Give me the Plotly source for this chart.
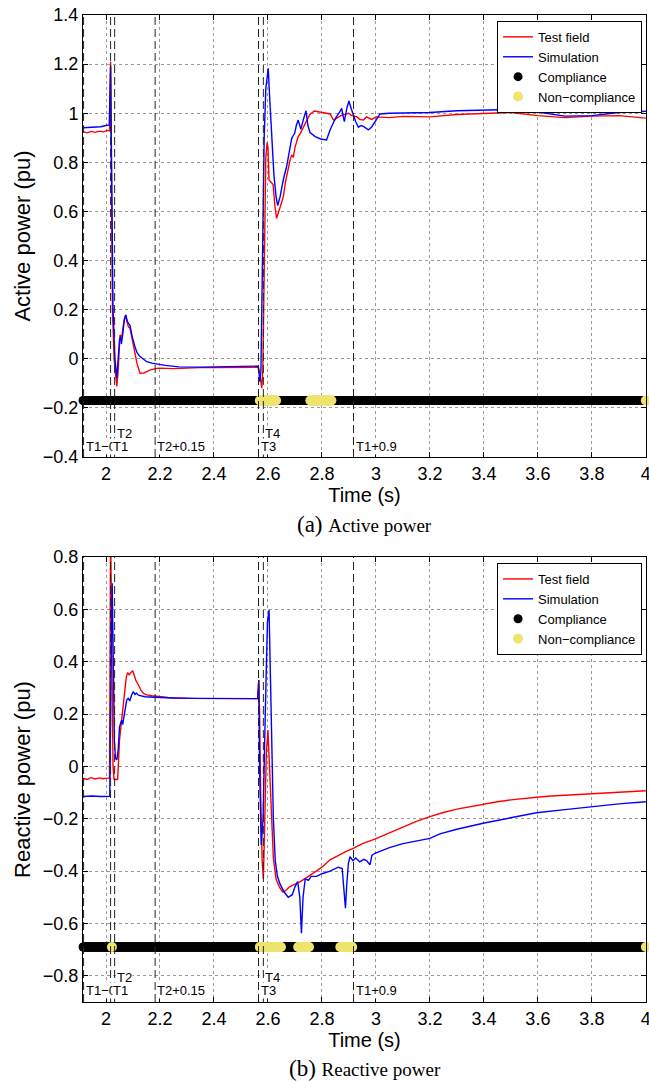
import numpy as np
import plotly.graph_objects as go

# ---------------- data ----------------
# Active power (pu)
p_test_t = [1.915, 1.93, 1.945, 1.96, 1.975, 1.99, 2.005, 2.013, 2.017, 2.019, 2.024, 2.030, 2.036, 2.040,
            2.045, 2.049, 2.052, 2.056, 2.060, 2.066, 2.073, 2.078, 2.083, 2.089, 2.095, 2.105, 2.115, 2.126,
            2.14, 2.151, 2.165, 2.188, 2.2, 2.25, 2.3, 2.35, 2.4, 2.45, 2.5, 2.55, 2.565, 2.570, 2.577,
            2.581, 2.586, 2.592, 2.597, 2.600, 2.604, 2.610, 2.619, 2.626, 2.632, 2.640, 2.650, 2.657,
            2.665, 2.675, 2.682, 2.688, 2.694, 2.700, 2.712, 2.72, 2.73, 2.743, 2.755, 2.772, 2.79, 2.81,
            2.83, 2.843, 2.855, 2.87, 2.885, 2.898, 2.91, 2.928, 2.94, 2.954, 2.965, 2.975, 2.984, 3.0,
            3.05, 3.1, 3.15, 3.2, 3.3, 3.4, 3.5, 3.6, 3.7, 3.8, 3.9, 4.0]
p_test_v = [0.925, 0.92, 0.926, 0.922, 0.927, 0.924, 0.93, 0.928, 1.21, 1.0, 0.2, 0.0, -0.08, -0.113,
            -0.05, 0.07, 0.097, 0.09, 0.10, 0.15, 0.178, 0.15, 0.13, 0.124, 0.09, 0.03, -0.02, -0.059,
            -0.058, -0.052, -0.045, -0.039, -0.038, -0.04, -0.037, -0.036, -0.036, -0.035, -0.034, -0.033,
            -0.035, -0.06, -0.12, -0.05, 0.4, 0.82, 0.88, 0.86, 0.728, 0.72, 0.71, 0.62, 0.572, 0.6, 0.64,
            0.66, 0.72, 0.782, 0.81, 0.83, 0.82, 0.86, 0.905, 0.918, 0.94, 0.972, 0.995, 1.009, 1.005, 1.0,
            0.997, 0.972, 0.98, 0.99, 0.995, 1.0, 0.99, 0.986, 0.975, 0.972, 0.985, 0.978, 0.975, 0.985,
            0.982, 0.987, 0.985, 0.985, 0.995, 1.0, 1.003, 0.99, 0.982, 0.988, 0.99, 0.98]

p_sim_t = [1.915, 1.95, 1.98, 2.0, 2.012, 2.017, 2.021, 2.026, 2.033, 2.040, 2.045, 2.050, 2.054, 2.057,
           2.062, 2.068, 2.073, 2.080, 2.089, 2.097, 2.107, 2.115, 2.126, 2.14, 2.151, 2.17, 2.188, 2.22,
           2.27, 2.35, 2.45, 2.55, 2.563, 2.567, 2.570, 2.574, 2.58, 2.586, 2.592, 2.601, 2.607, 2.614,
           2.622, 2.630, 2.636, 2.645, 2.657, 2.669, 2.680, 2.688, 2.699, 2.705, 2.712, 2.717, 2.722,
           2.730, 2.741, 2.748, 2.756, 2.775, 2.795, 2.817, 2.830, 2.842, 2.854, 2.866, 2.873, 2.878,
           2.883, 2.892, 2.900, 2.908, 2.916, 2.925, 2.935, 2.945, 2.955, 2.965, 2.972, 2.985, 3.002,
           3.015, 3.05, 3.1, 3.2, 3.3, 3.4, 3.5, 3.6, 3.7, 3.8, 3.9, 4.0]
p_sim_v = [0.941, 0.942, 0.945, 0.95, 0.952, 1.19, 0.7, 0.2, 0.0, -0.079, 0.0, 0.077, 0.09, 0.06,
           0.1, 0.16, 0.178, 0.15, 0.135, 0.09, 0.05, 0.025, 0.009, -0.005, -0.012, -0.018, -0.022, -0.027,
           -0.033, -0.034, -0.032, -0.03, -0.03, -0.06, -0.093, -0.05, 0.4, 0.9, 1.1, 1.183, 1.05, 0.891,
           0.75, 0.66, 0.624, 0.66, 0.73, 0.782, 0.86, 0.898, 0.918, 0.95, 0.972, 0.955, 0.935,
           0.97, 1.010, 0.95, 0.921, 0.905, 0.895, 0.891, 0.932, 0.96, 0.986, 1.005, 1.02, 0.99,
           0.966, 1.02, 1.05, 1.02, 0.993, 0.965, 0.943, 0.95, 0.945, 0.935, 0.932, 0.945, 0.972,
           0.997, 1.0, 1.0, 1.003, 1.01, 1.013, 1.015, 1.005, 0.988, 0.99, 1.003, 1.008]

# Reactive power (pu)
q_test_t = [1.915, 1.93, 1.945, 1.96, 1.975, 1.99, 2.005, 2.013, 2.017, 2.021, 2.026, 2.030, 2.043,
            2.050, 2.058, 2.064, 2.070, 2.075, 2.080, 2.086, 2.093, 2.099, 2.104, 2.110, 2.120, 2.130,
            2.140, 2.151, 2.17, 2.19, 2.23, 2.3, 2.4, 2.5, 2.562, 2.566, 2.569, 2.573, 2.578, 2.583,
            2.588, 2.594, 2.600, 2.605, 2.612, 2.620, 2.630, 2.642, 2.655, 2.665, 2.68, 2.70, 2.72,
            2.75, 2.78, 2.80, 2.83, 2.86, 2.89, 2.916, 2.95, 2.996, 3.05, 3.1, 3.15, 3.2, 3.25, 3.3,
            3.35, 3.397, 3.45, 3.5, 3.55, 3.595, 3.65, 3.7, 3.793, 3.85, 3.9, 3.95, 4.0]
q_test_v = [-0.045, -0.05, -0.043, -0.048, -0.044, -0.047, -0.045, -0.045, 0.9, 0.5, 0.0, -0.05, -0.05,
            0.1, 0.177, 0.25, 0.292, 0.34, 0.358, 0.35, 0.36, 0.365, 0.35, 0.33, 0.311, 0.29,
            0.278, 0.273, 0.27, 0.268, 0.263, 0.26, 0.259, 0.259, 0.259, 0.33, 0.2, -0.1, -0.35, -0.43,
            -0.2, 0.05, 0.139, 0.0, -0.2, -0.35, -0.43, -0.46, -0.48, -0.475, -0.46, -0.45, -0.44,
            -0.42, -0.40, -0.385, -0.357, -0.34, -0.325, -0.313, -0.295, -0.278, -0.255, -0.232, -0.21,
            -0.192, -0.176, -0.163, -0.153, -0.145, -0.135, -0.128, -0.122, -0.118, -0.113, -0.11,
            -0.105, -0.1, -0.098, -0.096, -0.093]

q_sim_t = [1.915, 1.95, 1.98, 2.0, 2.014, 2.018, 2.023, 2.027, 2.031, 2.035, 2.040, 2.045, 2.050, 2.058,
           2.062, 2.068, 2.077, 2.082, 2.088, 2.094, 2.101, 2.107, 2.113, 2.12, 2.144, 2.18, 2.25, 2.35,
           2.45, 2.562, 2.566, 2.569, 2.575, 2.582, 2.590, 2.598, 2.604, 2.609, 2.615, 2.620, 2.627,
           2.635, 2.645, 2.66, 2.675, 2.69, 2.70, 2.71, 2.718, 2.724, 2.730, 2.738, 2.75, 2.76, 2.78,
           2.80, 2.83, 2.86, 2.875, 2.882, 2.887, 2.892, 2.898, 2.904, 2.915, 2.925, 2.94, 2.955,
           2.965, 2.978, 2.985, 2.996, 3.05, 3.1, 3.15, 3.2, 3.237, 3.3, 3.397, 3.5, 3.595, 3.7,
           3.793, 3.9, 4.0]
q_sim_v = [-0.115, -0.113, -0.115, -0.113, -0.114, 0.3, 0.70, 0.4, 0.1, 0.03, 0.025, 0.06, 0.15, 0.177,
           0.16, 0.2, 0.254, 0.26, 0.25, 0.27, 0.286, 0.275, 0.28, 0.272, 0.266, 0.264, 0.261, 0.26,
           0.26, 0.259, 0.33, 0.0, -0.3, -0.2, 0.2, 0.55, 0.598, 0.3, 0.0, -0.2, -0.36,
           -0.42, -0.45, -0.48, -0.5, -0.49, -0.46, -0.44, -0.5, -0.637, -0.5, -0.43, -0.435, -0.42, -0.42,
           -0.41, -0.40, -0.385, -0.39, -0.47, -0.542, -0.45, -0.37, -0.345, -0.36, -0.35, -0.365, -0.355,
           -0.36, -0.376, -0.34, -0.332, -0.31, -0.295, -0.285, -0.275, -0.258, -0.24, -0.217, -0.195,
           -0.177, -0.165, -0.154, -0.143, -0.135]

# Compliance indicator (level, non-compliance intervals)
t_start, t_end = 1.915, 4.0
p_comp_level = -0.17
q_comp_level = -0.69
p_nc_start = [2.570, 2.757, 4.0]
p_nc_end = [2.630, 2.835, 4.0]
q_nc_start = [2.022, 2.570, 2.712, 2.868, 4.0]
q_nc_end = [2.022, 2.648, 2.752, 2.912, 4.0]

# Event markers
event_names = ["T1−0.1", "T1", "T2", "T2+0.15", "T3", "T4", "T1+0.9"]
event_times = [1.917, 2.017, 2.032, 2.182, 2.565, 2.583, 2.917]
event_row = [0, 0, 1, 0, 0, 1, 0]  # 0 = lower row, 1 = upper row

RED = "#ff0000"
BLUE = "#0000ff"
YELLOW = "#eee46e"
FONT = "Liberation Sans"

fig = go.Figure()


def comp_points(level, nc_s, nc_e):
    step = 0.002
    tt = np.arange(t_start, t_end + 1e-9, step)
    ny = []
    for s, e in zip(nc_s, nc_e):
        if e > s:
            ny.extend(np.arange(s, e + 1e-9, step).tolist())
        else:
            ny.append(s)
    return tt, np.full(len(tt), level), np.array(ny), np.full(len(ny), level)


for row, (tt, tv, st, sv, lvl, ncs, nce, xa, ya, lg) in enumerate([
    (p_test_t, p_test_v, p_sim_t, p_sim_v, p_comp_level, p_nc_start, p_nc_end, "x", "y", "legend"),
    (q_test_t, q_test_v, q_sim_t, q_sim_v, q_comp_level, q_nc_start, q_nc_end, "x2", "y2", "legend2"),
]):
    fig.add_trace(go.Scatter(x=tt, y=tv, mode="lines", line=dict(color=RED, width=1.4),
                             name="Test field", xaxis=xa, yaxis=ya, legend=lg))
    fig.add_trace(go.Scatter(x=st, y=sv, mode="lines", line=dict(color=BLUE, width=1.4),
                             name="Simulation", xaxis=xa, yaxis=ya, legend=lg))
    ct, cv, nt, nv = comp_points(lvl, ncs, nce)
    fig.add_trace(go.Scatter(x=ct, y=cv, mode="markers", marker=dict(color="black", size=9),
                             name="Compliance", xaxis=xa, yaxis=ya, legend=lg, cliponaxis=False))
    fig.add_trace(go.Scatter(x=nt, y=nv, mode="markers", marker=dict(color=YELLOW, size=10),
                             name="Non−compliance", xaxis=xa, yaxis=ya, legend=lg, cliponaxis=False))

shapes = []
annotations = []
for xa, ya, ylow, yhigh in [("x", "y", -0.359, -0.306), ("x2", "y2", -0.857, -0.805)]:
    for name, t, r in zip(event_names, event_times, event_row):
        shapes.append(dict(type="line", xref=xa, yref=ya + " domain", x0=t, x1=t, y0=0, y1=1,
                           line=dict(color="#222", width=1, dash="8px,4px")))
    for name, t, r in zip(event_names, event_times, event_row):
        annotations.append(dict(x=t, y=(yhigh if r else ylow), xref=xa, yref=ya, text=name,
                                showarrow=False, xanchor="left", yanchor="middle", xshift=1,
                                bgcolor="white", borderpad=0,
                                font=dict(family=FONT, size=13, color="black")))

annotations.append(dict(x=0.5, y=0.484, xref="paper", yref="paper", showarrow=False,
                        text="(a) <span style='font-size:19px'>Active power</span>",
                        font=dict(family="Liberation Serif", size=23, color="black"),
                        xanchor="center", yanchor="middle"))
annotations.append(dict(x=0.5, y=-0.067, xref="paper", yref="paper", showarrow=False,
                        text="(b) <span style='font-size:19px'>Reactive power</span>",
                        font=dict(family="Liberation Serif", size=23, color="black"),
                        xanchor="center", yanchor="middle"))

axis_common = dict(showgrid=True, gridcolor="#999999", griddash="dot", gridwidth=1,
                   zeroline=False, showline=True, linecolor="black", linewidth=1,
                   mirror="ticks", ticks="inside", ticklen=5, tickcolor="black",
                   ticklabeloverflow="allow", automargin=False,
                   tickfont=dict(family=FONT, size=18, color="black"))

xr = [1.9148, 4.0005]
fig.update_layout(
    width=649, height=1081,
    margin=dict(l=83, r=3, t=15, b=79, autoexpand=False),
    paper_bgcolor="white", plot_bgcolor="white",
    font=dict(family=FONT, color="black"),
    xaxis=dict(domain=[0, 1], anchor="y", range=xr, tick0=2, dtick=0.2,
               title=dict(text="Time (s)", font=dict(size=20), standoff=4), **axis_common),
    yaxis=dict(domain=[0.5522, 1], anchor="x", range=[-0.4, 1.4], dtick=0.2,
               title=dict(text="Active power (pu)", font=dict(size=22), standoff=6), **axis_common),
    xaxis2=dict(domain=[0, 1], anchor="y2", range=xr, tick0=2, dtick=0.2,
                title=dict(text="Time (s)", font=dict(size=20), standoff=4), **axis_common),
    yaxis2=dict(domain=[0, 0.4509], anchor="x2", range=[-0.9, 0.8], dtick=0.2,
                title=dict(text="Reactive power (pu)", font=dict(size=22), standoff=6), **axis_common),
    legend=dict(x=0.993, y=0.994, xanchor="right", yanchor="top", bgcolor="white",
                bordercolor="black", borderwidth=1, font=dict(family=FONT, size=13, color="black")),
    legend2=dict(x=0.993, y=0.4448, xanchor="right", yanchor="top", bgcolor="white",
                 bordercolor="black", borderwidth=1, font=dict(family=FONT, size=13, color="black")),
    shapes=shapes,
    annotations=annotations,
)

fig.write_html("out.html")
